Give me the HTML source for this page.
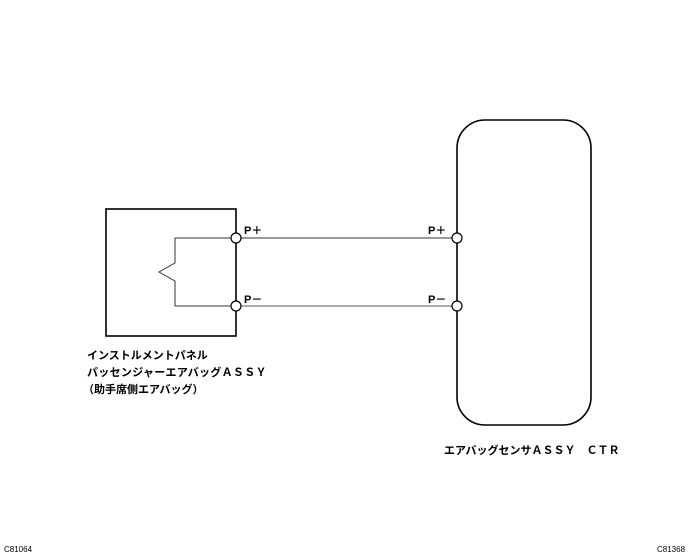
<!DOCTYPE html>
<html><head><meta charset="utf-8"><style>
body{margin:0;background:#fff;width:691px;height:555px;overflow:hidden}
text{font-family:"Liberation Sans","Noto Sans CJK JP",sans-serif;fill:#000}
</style></head><body>
<svg width="691" height="555" viewBox="0 0 691 555" xmlns="http://www.w3.org/2000/svg">
<rect x="106" y="209" width="130" height="127" fill="none" stroke="#000" stroke-width="1.6"/>
<rect x="457" y="120" width="134" height="305" rx="28" ry="28" fill="none" stroke="#000" stroke-width="1.6"/>
<polyline points="236,238 175,238 175,263 159,272 175,281 175,306 236,306" fill="none" stroke="#333" stroke-width="1"/>
<line x1="236" y1="238" x2="457" y2="238" stroke="#333" stroke-width="1"/>
<line x1="236" y1="306" x2="457" y2="306" stroke="#555" stroke-width="1"/>
<g fill="#fff" stroke="#000" stroke-width="1.2">
<circle cx="236" cy="238" r="5"/><circle cx="236" cy="306" r="5"/>
<circle cx="457" cy="238" r="5"/><circle cx="457" cy="306" r="5"/>
</g>
<g font-size="11" font-weight="bold">
<text x="244" y="234">P＋</text>
<text x="244" y="303">P－</text>
<text x="428" y="234">P＋</text>
<text x="428" y="303">P－</text>
</g>
<g font-size="11" font-weight="bold">
<text x="87" y="359">インストルメントパネル</text>
<text x="87" y="376" letter-spacing="0.3">パッセンジャーエアバッグＡＳＳＹ</text>
<text x="83" y="393">（助手席側エアバッグ）</text>
<text x="444" y="454">エアバッグセンサＡＳＳＹ　ＣＴＲ</text>
</g>
<text x="4" y="552" font-size="8">C81064</text>
<text x="657" y="552" font-size="8">C81368</text>
</svg>
</body></html>
